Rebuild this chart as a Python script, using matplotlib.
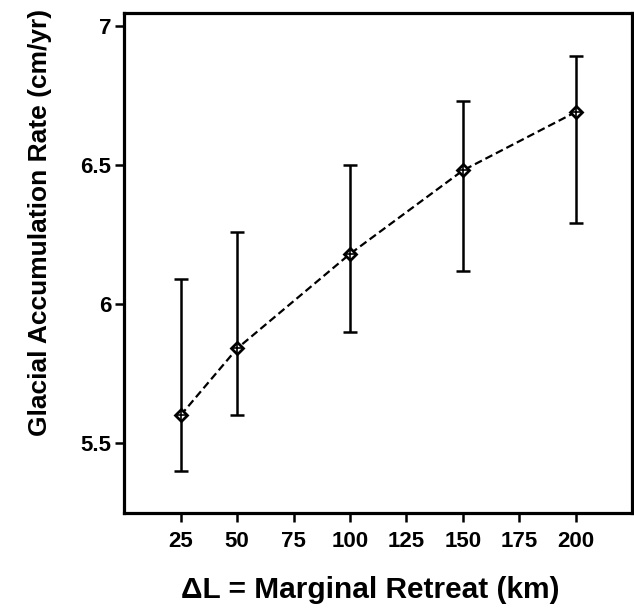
import matplotlib
matplotlib.use('Agg')
import matplotlib.pyplot as plt

# marginal retreat (km) and accumulation rate (cm/yr)
retreat = [25, 50, 100, 150, 200]
rate = [5.60, 5.84, 6.18, 6.48, 6.69]
rate_low = [5.40, 5.60, 5.90, 6.12, 6.29]
rate_high = [6.09, 6.26, 6.50, 6.73, 6.89]

xticks = [25, 50, 75, 100, 125, 150, 175, 200]
yticks = [5.5, 6, 6.5, 7]
yticklabels = ['5.5', '6', '6.5', '7']

plt.rcParams['font.family'] = ['Liberation Sans', 'DejaVu Sans']

fig = plt.figure(figsize=(6.34, 6.08), dpi=100)
ax = fig.add_axes([0.196, 0.156, 0.801, 0.823])

err = [[r - lo for r, lo in zip(rate, rate_low)],
       [hi - r for r, hi in zip(rate, rate_high)]]
ax.errorbar(retreat, rate, yerr=err, fmt='none', ecolor='black',
            elinewidth=1.8, capsize=5, capthick=1.8)
ax.plot(retreat, rate, color='black', linestyle='--', linewidth=1.6,
        dashes=(3.5, 1.8))
ax.plot(retreat, rate, linestyle='none', marker='D', markersize=6.5,
        markerfacecolor='white', markeredgecolor='black', markeredgewidth=2.0)
ax.plot(retreat, rate, linestyle='none', marker='+', markersize=6.5,
        markeredgecolor='black', markeredgewidth=1.2)

ax.set_xlim(0, 225)
ax.set_ylim(5.248, 7.047)
ax.set_xticks(xticks)
ax.set_xticklabels([str(t) for t in xticks])
ax.set_yticks(yticks)
ax.set_yticklabels(yticklabels)

for s in ax.spines.values():
    s.set_linewidth(2.3)
ax.tick_params(axis='both', direction='out', length=6.5, width=1.8,
               labelsize=16)
ax.tick_params(axis='x', pad=6)
ax.tick_params(axis='y', pad=3)
for lbl in ax.get_xticklabels() + ax.get_yticklabels():
    lbl.set_fontweight('bold')

ax.set_xlabel('ΔL = Marginal Retreat (km)', fontsize=21.5, fontweight='bold')
ax.xaxis.set_label_coords(0.485, -0.125)
ax.set_ylabel('Glacial Accumulation Rate (cm/yr)', fontsize=19,
              fontweight='bold')
ax.yaxis.set_label_coords(-0.142, 0.58)

fig.savefig('out.png', dpi=100)
